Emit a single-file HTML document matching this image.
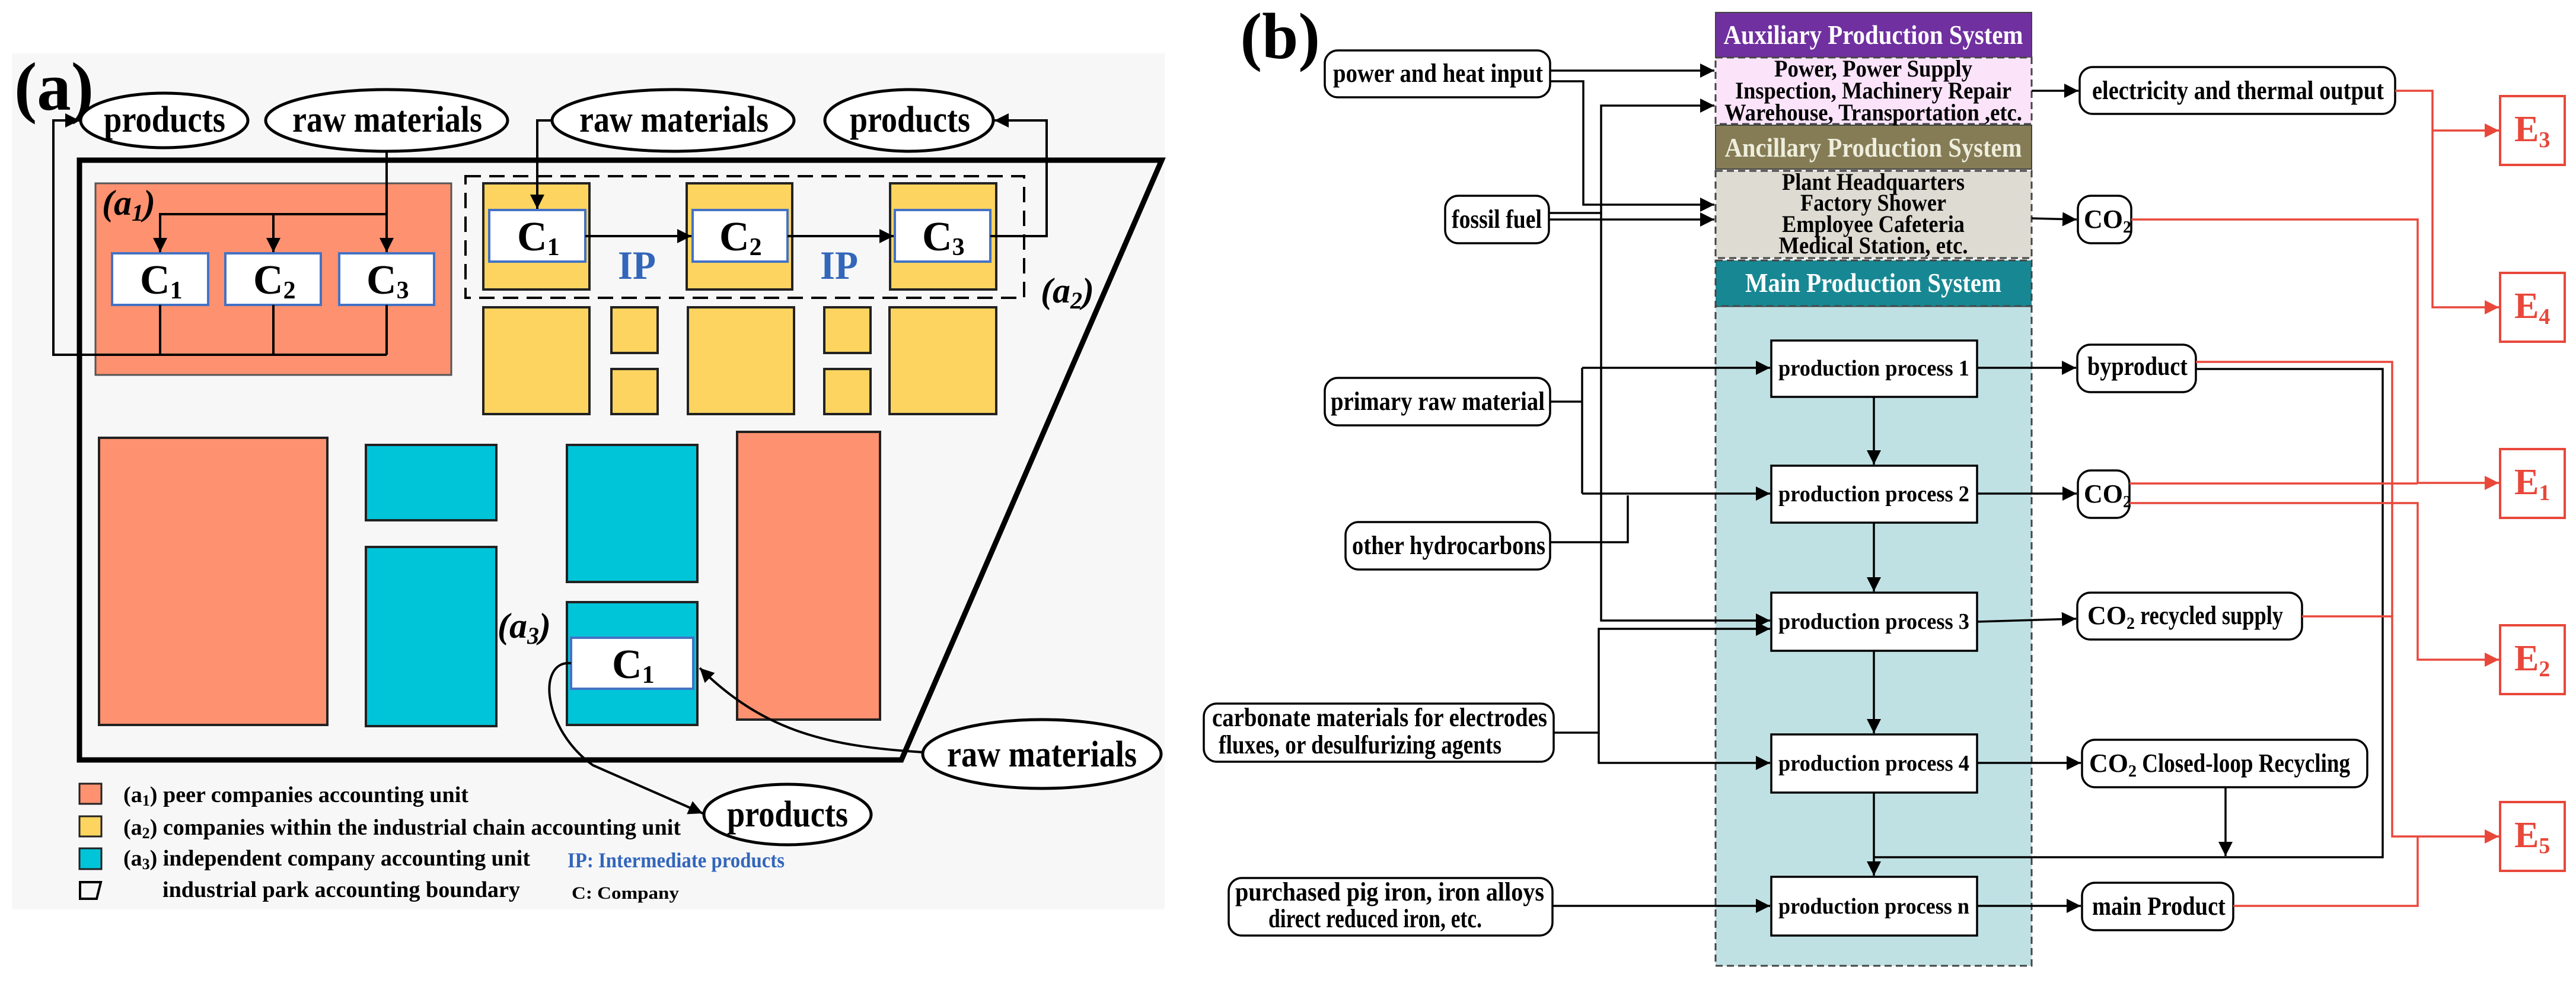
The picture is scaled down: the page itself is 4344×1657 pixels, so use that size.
<!DOCTYPE html>
<html><head><meta charset="utf-8"><style>
html,body{margin:0;padding:0;background:#fff}
svg{display:block}
text{font-family:"Liberation Serif",serif;font-weight:bold}
</style></head><body>
<svg width="4344" height="1657" viewBox="0 0 4344 1657" xmlns="http://www.w3.org/2000/svg">
<defs>
<marker id="ar" viewBox="0 0 10 10" refX="10" refY="5" markerWidth="24" markerHeight="24" markerUnits="userSpaceOnUse" orient="auto"><path d="M0,0 L10,5 L0,10 z" fill="#E8473A"/></marker>
<marker id="ak" viewBox="0 0 10 10" refX="10" refY="5" markerWidth="24" markerHeight="24" markerUnits="userSpaceOnUse" orient="auto"><path d="M0,0 L10,5 L0,10 z" fill="#000"/></marker>
</defs>

<!-- ========== PANEL A ========== -->
<rect x="20" y="90" width="1944" height="1443" fill="#F7F7F7"/>
<text x="24" y="185" font-size="115">(a)</text>

<g fill="#fff" stroke="#000" stroke-width="5">
<ellipse cx="277" cy="203" rx="141" ry="46"/>
<ellipse cx="652" cy="203" rx="204" ry="52"/>
<ellipse cx="1135" cy="203" rx="204" ry="52"/>
<ellipse cx="1533" cy="203" rx="142" ry="52"/>
<ellipse cx="1757" cy="1271" rx="201" ry="58"/>
<ellipse cx="1328" cy="1373" rx="141" ry="51"/>
</g>
<g font-size="62">
<text x="175" y="222" textLength="205" lengthAdjust="spacingAndGlyphs">products</text>
<text x="493" y="222" textLength="320" lengthAdjust="spacingAndGlyphs">raw materials</text>
<text x="977" y="222" textLength="319" lengthAdjust="spacingAndGlyphs">raw materials</text>
<text x="1433" y="222" textLength="203" lengthAdjust="spacingAndGlyphs">products</text>
<text x="1597" y="1292" textLength="320" lengthAdjust="spacingAndGlyphs">raw materials</text>
<text x="1226" y="1393" textLength="204" lengthAdjust="spacingAndGlyphs">products</text>
</g>

<polygon points="134,270 1959,270 1520,1281 134,1281" fill="none" stroke="#000" stroke-width="9"/>

<rect x="161" y="309" width="600" height="323" fill="#FE916F" stroke="#555" stroke-width="3"/>
<text x="172" y="362" font-size="60" font-style="italic">(a<tspan font-size="40" dy="10">1</tspan><tspan dy="-10">)</tspan></text>
<g fill="#fff" stroke="#4472C4" stroke-width="4">
<rect x="189" y="427" width="162" height="87"/>
<rect x="380" y="427" width="161" height="87"/>
<rect x="572" y="427" width="160" height="87"/>
</g>
<g font-size="70">
<text x="236" y="495">C<tspan font-size="42" dy="8">1</tspan></text>
<text x="427" y="495">C<tspan font-size="42" dy="8">2</tspan></text>
<text x="618" y="495">C<tspan font-size="42" dy="8">3</tspan></text>
</g>
<g fill="none" stroke="#000" stroke-width="4">
<path d="M652,255 V361 H270 V425" marker-end="url(#ak)"/>
<path d="M461,361 V425" marker-end="url(#ak)"/>
<path d="M652,361 V425" marker-end="url(#ak)"/>
<path d="M270,514 V598 M461,514 V598 M652,514 V598 M652,598 H90 V203 H134" marker-end="url(#ak)"/>
</g>

<g fill="#FCD45F" stroke="#222" stroke-width="4">
<rect x="815" y="309" width="179" height="179"/>
<rect x="1158" y="309" width="178" height="179"/>
<rect x="1501" y="309" width="179" height="179"/>
<rect x="815" y="518" width="179" height="180"/>
<rect x="1031" y="518" width="78" height="77"/>
<rect x="1031" y="622" width="78" height="76"/>
<rect x="1160" y="518" width="179" height="180"/>
<rect x="1390" y="518" width="78" height="77"/>
<rect x="1390" y="622" width="78" height="76"/>
<rect x="1500" y="518" width="180" height="180"/>
</g>
<rect x="785" y="297" width="942" height="205" fill="none" stroke="#000" stroke-width="4" stroke-dasharray="26,14"/>
<g fill="#fff" stroke="#4472C4" stroke-width="4">
<rect x="825" y="354" width="162" height="87"/>
<rect x="1168" y="354" width="160" height="87"/>
<rect x="1509" y="354" width="161" height="87"/>
</g>
<g font-size="70">
<text x="872" y="422">C<tspan font-size="42" dy="8">1</tspan></text>
<text x="1213" y="422">C<tspan font-size="42" dy="8">2</tspan></text>
<text x="1555" y="422">C<tspan font-size="42" dy="8">3</tspan></text>
</g>
<g font-size="68" fill="#3366BB">
<text x="1042" y="470" textLength="64" lengthAdjust="spacingAndGlyphs">IP</text>
<text x="1383" y="470" textLength="64" lengthAdjust="spacingAndGlyphs">IP</text>
</g>
<g fill="none" stroke="#000" stroke-width="4">
<path d="M987,398 H1166" marker-end="url(#ak)"/>
<path d="M1328,398 H1507" marker-end="url(#ak)"/>
<path d="M931,203 H906 V352" marker-end="url(#ak)"/>
<path d="M1670,398 H1765 V203 H1677" marker-end="url(#ak)"/>
</g>
<text x="1755" y="510" font-size="60" font-style="italic">(a<tspan font-size="40" dy="10">2</tspan><tspan dy="-10">)</tspan></text>

<g stroke="#222" stroke-width="4">
<rect x="167" y="738" width="385" height="484" fill="#FE916F"/>
<rect x="1243" y="728" width="241" height="485" fill="#FE916F"/>
<rect x="617" y="750" width="220" height="127" fill="#00C5D9"/>
<rect x="617" y="922" width="220" height="302" fill="#00C5D9"/>
<rect x="956" y="750" width="220" height="231" fill="#00C5D9"/>
<rect x="956" y="1015" width="220" height="207" fill="#00C5D9"/>
</g>
<rect x="963" y="1075" width="206" height="86" fill="#fff" stroke="#4472C4" stroke-width="4"/>
<text x="1032" y="1143" font-size="70">C<tspan font-size="42" dy="8">1</tspan></text>
<text x="839" y="1075" font-size="60" font-style="italic">(a<tspan font-size="40" dy="10">3</tspan><tspan dy="-10">)</tspan></text>
<g fill="none" stroke="#000" stroke-width="4">
<path d="M1556,1268 C1400,1258 1290,1235 1180,1126" marker-end="url(#ak)"/>
<path d="M963,1118 C905,1112 915,1230 1000,1290 L1185,1371" marker-end="url(#ak)"/>
</g>

<g stroke="#222" stroke-width="3">
<rect x="134" y="1321" width="37" height="34" fill="#FE916F"/>
<rect x="134" y="1376" width="37" height="34" fill="#FCD45F"/>
<rect x="134" y="1430" width="37" height="35" fill="#00C5D9"/>
</g>
<polygon points="135,1487 170,1487 163,1515 135,1515" fill="none" stroke="#000" stroke-width="4"/>
<g font-size="38">
<text x="208" y="1352" textLength="582" lengthAdjust="spacingAndGlyphs">(a<tspan font-size="26" dy="6">1</tspan><tspan dy="-6">) peer companies accounting unit</tspan></text>
<text x="208" y="1407" textLength="940" lengthAdjust="spacingAndGlyphs">(a<tspan font-size="26" dy="6">2</tspan><tspan dy="-6">) companies within the industrial chain accounting unit</tspan></text>
<text x="208" y="1459" textLength="686" lengthAdjust="spacingAndGlyphs">(a<tspan font-size="26" dy="6">3</tspan><tspan dy="-6">) independent company accounting unit</tspan></text>
<text x="274" y="1512" textLength="603" lengthAdjust="spacingAndGlyphs">industrial park accounting boundary</text>
</g>
<text x="957" y="1462" font-size="36" fill="#3366BB" textLength="366" lengthAdjust="spacingAndGlyphs">IP: Intermediate products</text>
<text x="964" y="1515" font-size="30" textLength="181" lengthAdjust="spacingAndGlyphs">C: Company</text>

<!-- ========== PANEL B ========== -->
<text x="2226" y="98" font-size="110" text-anchor="end">(b)</text>

<rect x="2893" y="516" width="533" height="1112" fill="#C0E1E4" stroke="#444" stroke-width="3" stroke-dasharray="12,7"/>
<rect x="2893" y="21" width="533" height="76" fill="#7030A0" stroke="#444" stroke-width="2"/>
<rect x="2893" y="97" width="533" height="112" fill="#FBE3FA" stroke="#444" stroke-width="3" stroke-dasharray="12,7"/>
<rect x="2893" y="211" width="533" height="74" fill="#857B55" stroke="#444" stroke-width="2"/>
<rect x="2893" y="288" width="533" height="147" fill="#DDDBD2" stroke="#444" stroke-width="3" stroke-dasharray="12,7"/>
<rect x="2893" y="439" width="533" height="77" fill="#178893" stroke="#444" stroke-width="3" stroke-dasharray="12,7"/>
<g font-size="46" text-anchor="middle">
<text x="3159" y="74" fill="#fff" textLength="505" lengthAdjust="spacingAndGlyphs">Auxiliary Production System</text>
<text x="3159" y="264" fill="#EEEEDD" textLength="501" lengthAdjust="spacingAndGlyphs">Ancillary Production System</text>
<text x="3159" y="492" fill="#fff" textLength="432" lengthAdjust="spacingAndGlyphs">Main Production System</text>
</g>
<g font-size="40" text-anchor="middle">
<text x="3159" y="129" textLength="334" lengthAdjust="spacingAndGlyphs">Power, Power Supply</text>
<text x="3159" y="166" textLength="466" lengthAdjust="spacingAndGlyphs">Inspection, Machinery Repair</text>
<text x="3159" y="203" textLength="502" lengthAdjust="spacingAndGlyphs">Warehouse, Transportation ,etc.</text>
<text x="3159" y="320" textLength="308" lengthAdjust="spacingAndGlyphs">Plant Headquarters</text>
<text x="3159" y="355" textLength="246" lengthAdjust="spacingAndGlyphs">Factory Shower</text>
<text x="3159" y="391" textLength="308" lengthAdjust="spacingAndGlyphs">Employee Cafeteria</text>
<text x="3159" y="427" textLength="319" lengthAdjust="spacingAndGlyphs">Medical Station, etc.</text>
</g>

<g fill="#fff" stroke="#000" stroke-width="3.5">
<rect x="2987" y="574" width="347" height="95"/>
<rect x="2987" y="785" width="347" height="96"/>
<rect x="2987" y="999" width="347" height="98"/>
<rect x="2987" y="1238" width="347" height="98"/>
<rect x="2987" y="1478" width="347" height="99"/>
</g>
<g font-size="38" text-anchor="middle">
<text x="3160" y="633" textLength="322" lengthAdjust="spacingAndGlyphs">production process 1</text>
<text x="3160" y="845" textLength="322" lengthAdjust="spacingAndGlyphs">production process 2</text>
<text x="3160" y="1060" textLength="322" lengthAdjust="spacingAndGlyphs">production process 3</text>
<text x="3160" y="1299" textLength="322" lengthAdjust="spacingAndGlyphs">production process 4</text>
<text x="3160" y="1540" textLength="322" lengthAdjust="spacingAndGlyphs">production process n</text>
</g>

<g fill="#fff" stroke="#000" stroke-width="3.5">
<rect x="2234" y="85" width="380" height="79" rx="22"/>
<rect x="2437" y="330" width="175" height="80" rx="22"/>
<rect x="2234" y="637" width="380" height="80" rx="22"/>
<rect x="2269" y="880" width="345" height="80" rx="22"/>
<rect x="2030" y="1186" width="590" height="98" rx="22"/>
<rect x="2072" y="1480" width="546" height="97" rx="22"/>
</g>
<g font-size="44">
<text x="2248" y="138" textLength="354" lengthAdjust="spacingAndGlyphs">power and heat input</text>
<text x="2448" y="384" textLength="152" lengthAdjust="spacingAndGlyphs">fossil fuel</text>
<text x="2244" y="691" textLength="361" lengthAdjust="spacingAndGlyphs">primary raw material</text>
<text x="2280" y="934" textLength="326" lengthAdjust="spacingAndGlyphs">other hydrocarbons</text>
<text x="2044" y="1224" textLength="565" lengthAdjust="spacingAndGlyphs">carbonate materials for electrodes</text>
<text x="2055" y="1270" textLength="477" lengthAdjust="spacingAndGlyphs">fluxes, or desulfurizing agents</text>
<text x="2083" y="1518" textLength="521" lengthAdjust="spacingAndGlyphs">purchased pig iron, iron alloys</text>
<text x="2139" y="1563" textLength="360" lengthAdjust="spacingAndGlyphs">direct reduced iron, etc.</text>
</g>

<g fill="#fff" stroke="#000" stroke-width="3.5">
<rect x="3507" y="113" width="532" height="79" rx="22"/>
<rect x="3504" y="330" width="90" height="80" rx="22"/>
<rect x="3503" y="581" width="200" height="80" rx="22"/>
<rect x="3504" y="793" width="87" height="80" rx="22"/>
<rect x="3503" y="999" width="379" height="79" rx="22"/>
<rect x="3511" y="1247" width="481" height="80" rx="22"/>
<rect x="3511" y="1488" width="255" height="80" rx="22"/>
</g>
<g font-size="44">
<text x="3528" y="167" textLength="492" lengthAdjust="spacingAndGlyphs">electricity and thermal output</text>
<text x="3514" y="384">CO<tspan font-size="28" dy="8">2</tspan></text>
<text x="3520" y="632" textLength="169" lengthAdjust="spacingAndGlyphs">byproduct</text>
<text x="3514" y="847">CO<tspan font-size="28" dy="8">2</tspan></text>
<text x="3520" y="1052">CO<tspan font-size="28" dy="8">2</tspan><tspan dy="-8" textLength="250" lengthAdjust="spacingAndGlyphs"> recycled supply</tspan></text>
<text x="3523" y="1301">CO<tspan font-size="28" dy="8">2</tspan><tspan dy="-8" textLength="360" lengthAdjust="spacingAndGlyphs"> Closed-loop Recycling</tspan></text>
<text x="3528" y="1542" textLength="225" lengthAdjust="spacingAndGlyphs">main Product</text>
</g>

<g fill="#fff" stroke="#E8473A" stroke-width="4">
<rect x="4216" y="162" width="109" height="116"/>
<rect x="4216" y="460" width="109" height="116"/>
<rect x="4216" y="757" width="109" height="116"/>
<rect x="4216" y="1054" width="109" height="116"/>
<rect x="4216" y="1352" width="109" height="116"/>
</g>
<g font-size="62" fill="#E8473A">
<text x="4240" y="238">E<tspan font-size="38" dy="10">3</tspan></text>
<text x="4240" y="536">E<tspan font-size="38" dy="10">4</tspan></text>
<text x="4240" y="833">E<tspan font-size="38" dy="10">1</tspan></text>
<text x="4240" y="1130">E<tspan font-size="38" dy="10">2</tspan></text>
<text x="4240" y="1428">E<tspan font-size="38" dy="10">5</tspan></text>
</g>

<g fill="none" stroke="#000" stroke-width="3.5">
<path d="M2614,119 H2891" marker-end="url(#ak)"/>
<path d="M2614,137 H2670 V345 H2891" marker-end="url(#ak)"/>
<path d="M2612,359 H2700 V178 H2891" marker-end="url(#ak)"/>
<path d="M2612,370 H2891" marker-end="url(#ak)"/>
<path d="M2700,359 V1046 H2985" marker-end="url(#ak)"/>
<path d="M2614,677 H2668"/>
<path d="M2668,620 V832"/>
<path d="M2668,620 H2985" marker-end="url(#ak)"/>
<path d="M2668,832 H2985" marker-end="url(#ak)"/>
<path d="M2614,914 H2745 V835"/>
<path d="M2620,1235 H2696 V1060 H2985" marker-end="url(#ak)"/>
<path d="M2696,1235 V1286 H2985" marker-end="url(#ak)"/>
<path d="M2618,1527 H2985" marker-end="url(#ak)"/>
<path d="M3160,669 V783" marker-end="url(#ak)"/>
<path d="M3160,881 V997" marker-end="url(#ak)"/>
<path d="M3160,1097 V1236" marker-end="url(#ak)"/>
<path d="M3160,1336 V1476" marker-end="url(#ak)"/>
<path d="M3334,620 H3501" marker-end="url(#ak)"/>
<path d="M3334,832 H3502" marker-end="url(#ak)"/>
<path d="M3334,1048 L3501,1043" marker-end="url(#ak)"/>
<path d="M3334,1286 H3509" marker-end="url(#ak)"/>
<path d="M3334,1527 H3509" marker-end="url(#ak)"/>
<path d="M3426,153 H3505" marker-end="url(#ak)"/>
<path d="M3426,368 L3502,370" marker-end="url(#ak)"/>
<path d="M3703,622 H4018 V1445 H3160"/>
<path d="M3753,1327 V1443" marker-end="url(#ak)"/>
</g>

<g fill="none" stroke="#E8473A" stroke-width="3.5">
<path d="M4039,153 H4102 V518 H4214" marker-end="url(#ar)"/>
<path d="M4102,220 H4214" marker-end="url(#ar)"/>
<path d="M3594,370 H4077 V814 H4214" marker-end="url(#ar)"/>
<path d="M3591,815 H4077"/>
<path d="M3591,848 H4077 V1112 H4214" marker-end="url(#ar)"/>
<path d="M3703,610 H4034 V1410 H4214" marker-end="url(#ar)"/>
<path d="M3882,1039 H4034"/>
<path d="M3766,1527 H4077 V1410"/>
</g>
</svg>
</body></html>
